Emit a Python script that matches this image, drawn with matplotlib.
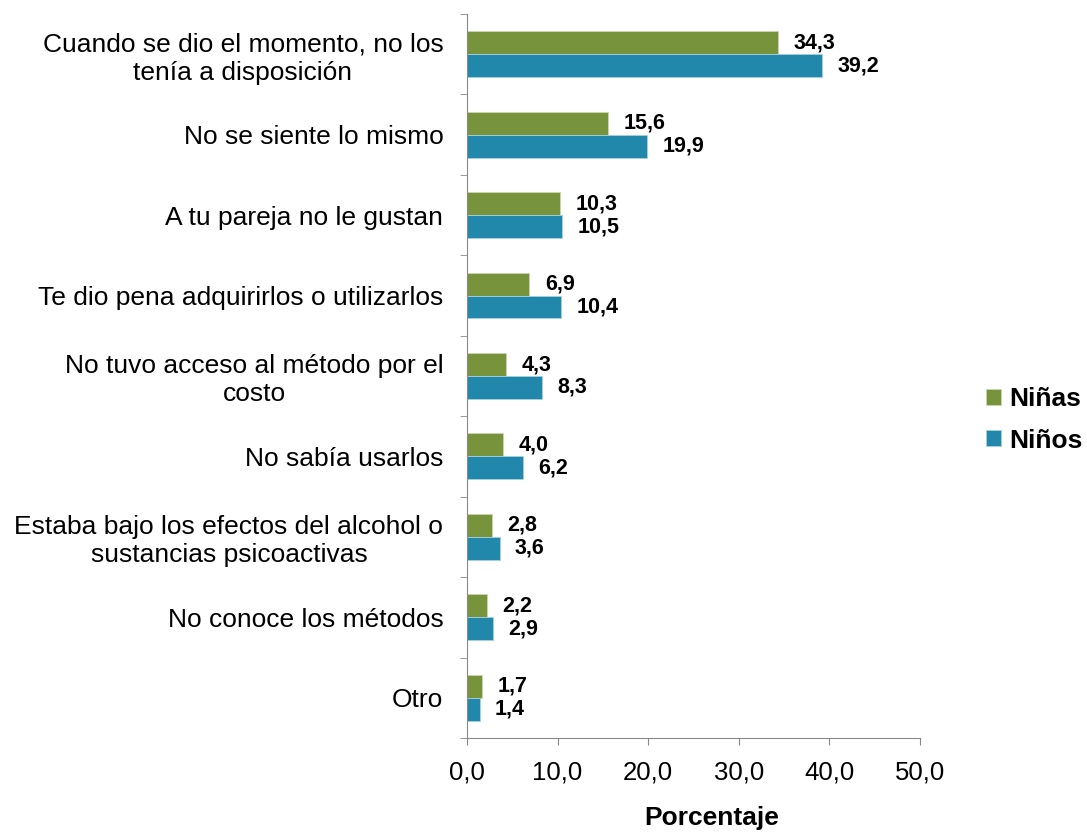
import matplotlib.pyplot as plt
import numpy as np

plt.rcParams['font.family'] = ['Liberation Sans', 'DejaVu Sans']

# categories listed top to bottom
categories = [
    "Cuando se dio el momento, no los\ntenía a disposición",
    "No se siente lo mismo",
    "A tu pareja no le gustan",
    "Te dio pena adquirirlos o utilizarlos",
    "No tuvo acceso al método por el\ncosto",
    "No sabía usarlos",
    "Estaba bajo los efectos del alcohol o\nsustancias psicoactivas",
    "No conoce los métodos",
    "Otro",
]
ninas = [34.3, 15.6, 10.3, 6.9, 4.3, 4.0, 2.8, 2.2, 1.7]
ninos = [39.2, 19.9, 10.5, 10.4, 8.3, 6.2, 3.6, 2.9, 1.4]
xticks = [0, 10, 20, 30, 40, 50]

green = '#77933C'
blue = '#2187AB'
axis_gray = '#898989'

fig = plt.figure(figsize=(10.87, 8.32), dpi=100)
ax = fig.add_axes([0.4296, 0.1130, 0.4168, 0.8702])

n = len(categories)
y = np.arange(n)[::-1]  # first category at top
bar_h = 0.285

ax.barh(y + bar_h / 2, ninas, bar_h, color=green, edgecolor='#c9d6b0',
        linewidth=0.6, label='Niñas')
ax.barh(y - bar_h / 2, ninos, bar_h, color=blue, edgecolor='#a9d0de',
        linewidth=0.6, label='Niños')

def fmt(v):
    return f"{v:.1f}".replace('.', ',')

for yi, a, b in zip(y, ninas, ninos):
    ax.annotate(fmt(a), (a, yi + bar_h / 2), xytext=(11, 0),
                textcoords='offset points', va='center', ha='left',
                fontsize=15.5, fontweight='bold')
    ax.annotate(fmt(b), (b, yi - bar_h / 2), xytext=(11, 0),
                textcoords='offset points', va='center', ha='left',
                fontsize=15.5, fontweight='bold')

ax.set_xlim(0, 50)
ax.set_ylim(-0.5, n - 0.5)
ax.set_xticks(xticks)
ax.set_xticklabels([fmt(t) for t in xticks], fontsize=18.5)
ax.set_yticks(y)
ax.set_yticklabels(categories, fontsize=19, ha='right', multialignment='center')
ax.tick_params(axis='y', length=0, pad=17)
ax.set_yticks(np.arange(n + 1) - 0.5, minor=True)
ax.tick_params(axis='y', which='minor', length=5, color=axis_gray)
ax.tick_params(axis='x', length=5, color=axis_gray, pad=11)

for s in ['top', 'right']:
    ax.spines[s].set_visible(False)
for s in ['left', 'bottom']:
    ax.spines[s].set_color(axis_gray)

fig.text(712 / 1087, 0.003, 'Porcentaje', fontsize=19, fontweight='bold',
         ha='center', va='bottom')

fig.legend(loc='center left', bbox_to_anchor=(986 / 1087, 1 - 420 / 832),
           frameon=False, borderpad=0, borderaxespad=0,
           prop={'size': 19, 'weight': 'bold'}, handlelength=0.57,
           handleheight=0.57, handletextpad=0.3, labelspacing=0.65)

fig.savefig('out.png', dpi=100)
